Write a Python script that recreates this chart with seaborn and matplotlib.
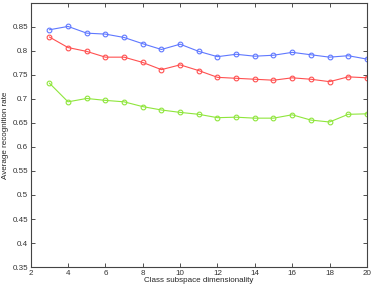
import pandas as pd
import matplotlib
matplotlib.use('Agg')
import matplotlib.pyplot as plt
import seaborn as sns

# dimensoes do subespaco e taxas medias
dims = list(range(3, 21))
taxa_azul = [0.844, 0.851, 0.837, 0.835, 0.828, 0.815, 0.803, 0.814, 0.799, 0.788,
             0.793, 0.789, 0.791, 0.797, 0.792, 0.787, 0.790, 0.783]
taxa_vermelha = [0.829, 0.807, 0.799, 0.787, 0.787, 0.776, 0.761, 0.771, 0.759, 0.745,
                 0.743, 0.741, 0.739, 0.744, 0.741, 0.736, 0.746, 0.744]
taxa_verde = [0.733, 0.694, 0.701, 0.697, 0.694, 0.684, 0.677, 0.672, 0.668, 0.661,
              0.662, 0.660, 0.660, 0.667, 0.656, 0.652, 0.668, 0.669]

df = pd.DataFrame({
    'dim': dims * 3,
    'taxa': taxa_azul + taxa_vermelha + taxa_verde,
    'serie': ['azul'] * len(dims) + ['vermelha'] * len(dims) + ['verde'] * len(dims),
})

sns.set_theme(style="white")
plt.rcParams['font.family'] = ['Liberation Sans', 'DejaVu Sans']

fig = plt.figure(figsize=(3.74, 2.89), dpi=100)
ax = fig.add_axes([0.082, 0.076, 0.899, 0.914])

cores = {'azul': '#5f78ff', 'vermelha': '#ff5050', 'verde': '#8fe63c'}
sns.lineplot(data=df, x='dim', y='taxa', hue='serie', palette=cores, marker='o',
             markersize=3.4, markerfacecolor='none', linewidth=0.8, legend=False, ax=ax)
# circulos vazados com a cor da linha
for linha in ax.get_lines():
    linha.set_markeredgecolor(linha.get_color())
    linha.set_markeredgewidth(0.8)

ax.set_xlim(2, 20)
ax.set_ylim(0.35, 0.9)
ax.set_xticks(range(2, 21, 2))
ax.set_yticks([0.35, 0.4, 0.45, 0.5, 0.55, 0.6, 0.65, 0.7, 0.75, 0.8, 0.85])
ax.set_yticklabels(['0.35', '0.4', '0.45', '0.5', '0.55', '0.6', '0.65', '0.7', '0.75', '0.8', '0.85'])
ax.tick_params(direction='in', length=3, width=0.6, labelsize=5.8, pad=2,
               top=True, right=True, bottom=True, left=True, colors='#333333')
for lado in ax.spines.values():
    lado.set_color('#444444')
    lado.set_linewidth(0.8)

ax.set_xlabel('Class subspace dimensionality', fontsize=5.8, labelpad=0)
ax.set_ylabel('Average recognition rate', fontsize=5.8, labelpad=2)

fig.savefig('out.png', dpi=100)
